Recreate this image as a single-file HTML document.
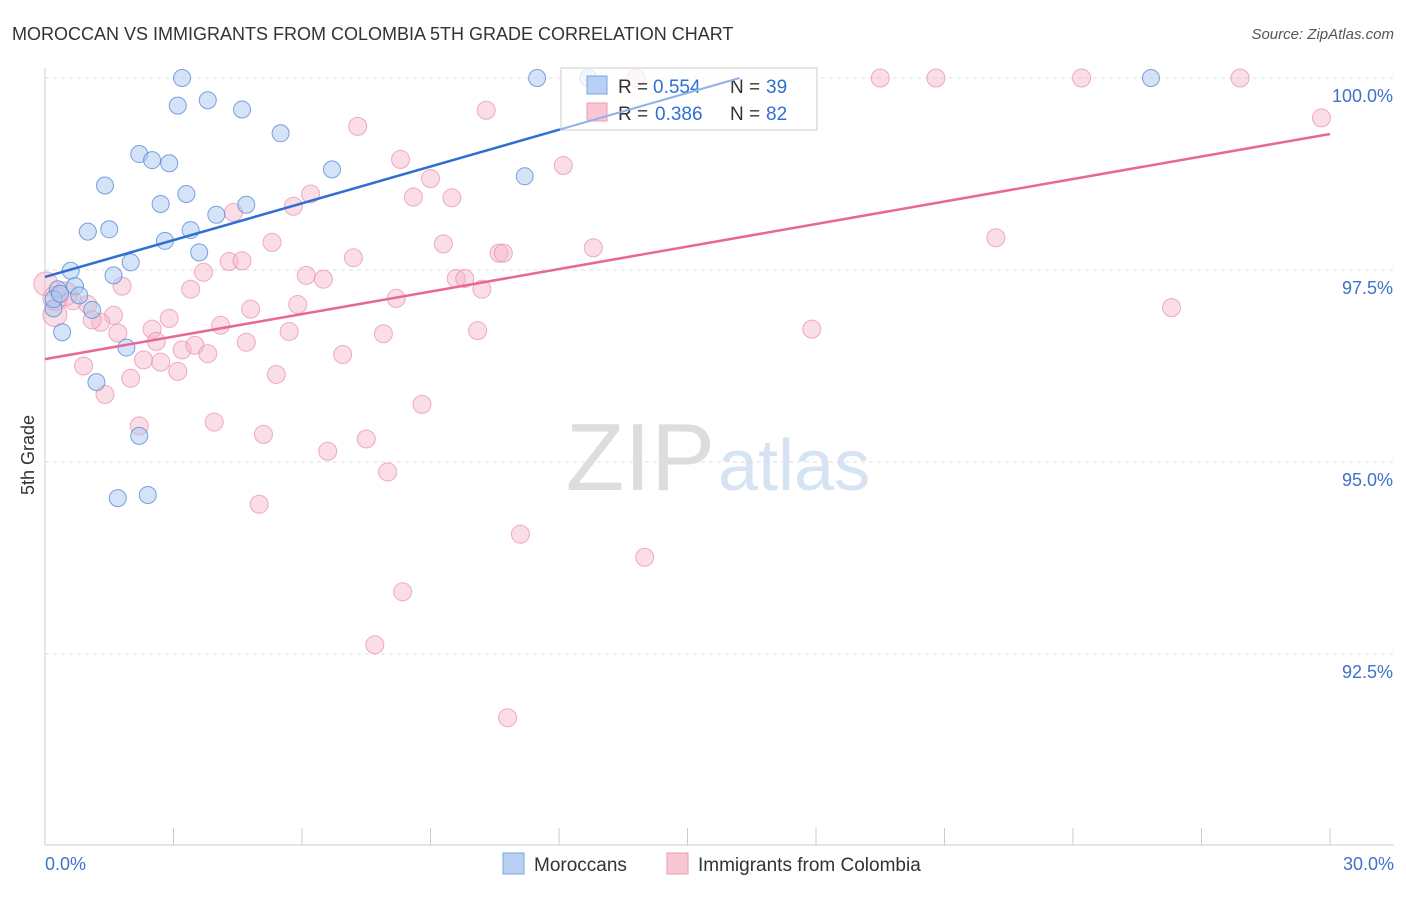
<!DOCTYPE html>
<html><head><meta charset="utf-8"><style>
body{margin:0;background:#fff;font-family:"Liberation Sans",sans-serif}
svg text{font-family:"Liberation Sans",sans-serif}
</style></head><body>
<svg id="c" width="1406" height="892">
<text x="12" y="40" font-size="18" fill="#333">MOROCCAN VS IMMIGRANTS FROM COLOMBIA 5TH GRADE CORRELATION CHART</text>
<text x="1394" y="39" font-size="15" fill="#555" font-style="italic" text-anchor="end">Source: ZipAtlas.com</text>
<text x="34" y="455" font-size="18" fill="#333" transform="rotate(-90 34 455)" text-anchor="middle">5th Grade</text>
<text x="715" y="490" font-size="96" fill="#ddd" text-anchor="end" font-family="Liberation Serif">ZIP</text>
<text x="718" y="490" font-size="72" fill="#d6e3f3">atlas</text>
<g id="grid"></g><g id="pts"></g>
<g>
<rect x="561" y="68" width="256" height="62" fill="rgba(255,255,255,0.75)" stroke="#ccc"/>
<rect x="587" y="76" width="20" height="18" fill="#b8d0f3" stroke="#7aa6e0"/>
<rect x="587" y="103" width="20" height="18" fill="#f9c6d4" stroke="#eb9ab2"/>
<text x="618" y="93" font-size="19" fill="#333">R =</text>
<text x="653" y="93" font-size="19" fill="#2e6fd6">0.554</text>
<text x="730" y="93" font-size="19" fill="#333">N =</text>
<text x="766" y="93" font-size="19" fill="#2e6fd6">39</text>
<text x="618" y="120" font-size="19" fill="#333">R =</text>
<text x="655" y="120" font-size="19" fill="#2e6fd6">0.386</text>
<text x="730" y="120" font-size="19" fill="#333">N =</text>
<text x="766" y="120" font-size="19" fill="#2e6fd6">82</text>
</g>
<g id="lines"></g>
<g>
<rect x="503" y="853" width="21" height="21" fill="#b8d0f3" stroke="#7aa6e0"/>
<text x="534" y="871" font-size="19" fill="#333">Moroccans</text>
<rect x="667" y="853" width="21" height="21" fill="#f9c6d4" stroke="#eb9ab2"/>
<text x="698" y="871" font-size="19" fill="#333">Immigrants from Colombia</text>
</g>
</svg>
<script>
const xTicks=[0,3,6,9,12,15,18,21,24,27,30];
const yTicks=[92.5,95,97.5,100];
const blueX=[3.2,11.49,12.68,25.82,3.1,3.8,4.6,5.5,2.2,2.5,2.9,6.7,11.2,1.4,3.3,2.7,4.7,4.0,1.0,1.5,3.4,2.8,3.6,2.0,0.6,1.6,0.7,0.3,0.8,1.1,0.2,0.4,1.9,1.2,2.2,1.7,2.4,0.2,0.35];
const blueY=[100,100,100,100,99.64,99.71,99.59,99.28,99.01,98.93,98.89,98.81,98.72,98.6,98.49,98.36,98.35,98.22,98.0,98.03,98.02,97.88,97.73,97.6,97.49,97.43,97.29,97.25,97.17,96.98,97.0,96.69,96.49,96.04,95.34,94.53,94.57,97.12,97.19];
const pinkX=[13.8,19.5,20.8,24.2,27.9,29.8,10.3,7.3,8.3,12.1,9.0,6.2,5.8,8.6,9.5,4.4,5.3,9.3,12.8,10.6,10.7,22.2,7.2,4.3,4.6,3.7,6.1,6.5,9.6,9.8,10.2,1.8,3.4,8.2,5.9,4.8,26.3,1.0,0.65,1.6,2.9,1.3,4.1,1.1,2.5,1.7,5.7,7.9,10.1,17.9,2.6,4.7,3.2,3.5,3.8,6.95,2.3,2.7,3.1,0.9,2.0,5.4,1.4,8.8,2.2,3.95,5.1,7.5,6.6,8.0,5.0,11.1,14.0,8.35,7.7,10.8,0.23,0.02,0.23,0.47];
const pinkY=[100,100,100,100,100,99.48,99.58,99.37,98.94,98.86,98.69,98.49,98.33,98.45,98.44,98.25,97.86,97.84,97.79,97.72,97.72,97.92,97.66,97.61,97.62,97.47,97.43,97.38,97.39,97.39,97.25,97.29,97.25,97.13,97.05,96.99,97.01,97.05,97.1,96.91,96.87,96.82,96.78,96.85,96.73,96.68,96.7,96.67,96.71,96.73,96.57,96.56,96.46,96.52,96.41,96.4,96.33,96.3,96.18,96.25,96.09,96.14,95.88,95.75,95.47,95.52,95.36,95.3,95.14,94.87,94.45,94.06,93.76,93.31,92.62,91.67,96.92,97.32,97.13,97.19];
const blueFit=[97.41,0.1597];
const pinkFit=[96.34,0.0977];
const NS='http://www.w3.org/2000/svg';
const X=v=>45+v/30*1285, Y=v=>78+(100-v)*76.8;
function mk(t,a,p){const e=document.createElementNS(NS,t);for(const k in a)e.setAttribute(k,a[k]);p.appendChild(e);return e;}
const g=document.getElementById('grid');
mk('line',{x1:45,y1:68,x2:45,y2:845,stroke:'#ccc'},g);
mk('line',{x1:45,y1:845,x2:1394,y2:845,stroke:'#ccc'},g);
xTicks.forEach(v=>{const l=mk('line',{x1:X(v),y1:828,x2:X(v),y2:845,stroke:'#ccc'},g);

});
yTicks.forEach(v=>{const l=mk('line',{x1:45,y1:Y(v),x2:1394,y2:Y(v),stroke:'#ddd','stroke-dasharray':'4,4'},g);


const t=mk('text',{x:1393,y:Y(v)+24,'font-size':18,fill:'#3f72c9','text-anchor':'end'},g);t.textContent=v.toFixed(1)+'%';

});
[[0,'0.0%','start',45],[30,'30.0%','end',1394]].forEach(a=>{const t=mk('text',{x:a[3],y:870,'font-size':18,fill:'#3f72c9','text-anchor':a[2]},g);t.textContent=a[1];

});
const p=document.getElementById('pts');
pinkX.forEach((v,i)=>{const c=mk('circle',{cx:X(v),cy:Y(pinkY[i]),r:i>=76?12:9,fill:'rgba(246,180,200,0.45)',stroke:'rgba(232,140,170,0.7)'},p);

});
blueX.forEach((v,i)=>{const c=mk('circle',{cx:X(v),cy:Y(blueY[i]),r:8.5,fill:'rgba(170,200,240,0.5)',stroke:'rgba(90,140,215,0.8)'},p);

});
const L=document.getElementById('lines');
const xe=(100-blueFit[0])/blueFit[1];
const xm=(560-45)/1285*30;
const b=mk('line',{x1:X(0),y1:Y(blueFit[0]),x2:X(xm),y2:Y(blueFit[0]+xm*blueFit[1]),stroke:'#2f6fd4','stroke-width':2.5},L);


const b2=mk('line',{x1:X(xm),y1:Y(blueFit[0]+xm*blueFit[1]),x2:X(xe),y2:Y(100),stroke:'#8fb3e8','stroke-width':2},L);


const pk=mk('line',{x1:X(0),y1:Y(pinkFit[0]),x2:X(30),y2:Y(pinkFit[0]+30*pinkFit[1]),stroke:'#e8679a','stroke-width':2.5},L);


</script>
</body></html>
